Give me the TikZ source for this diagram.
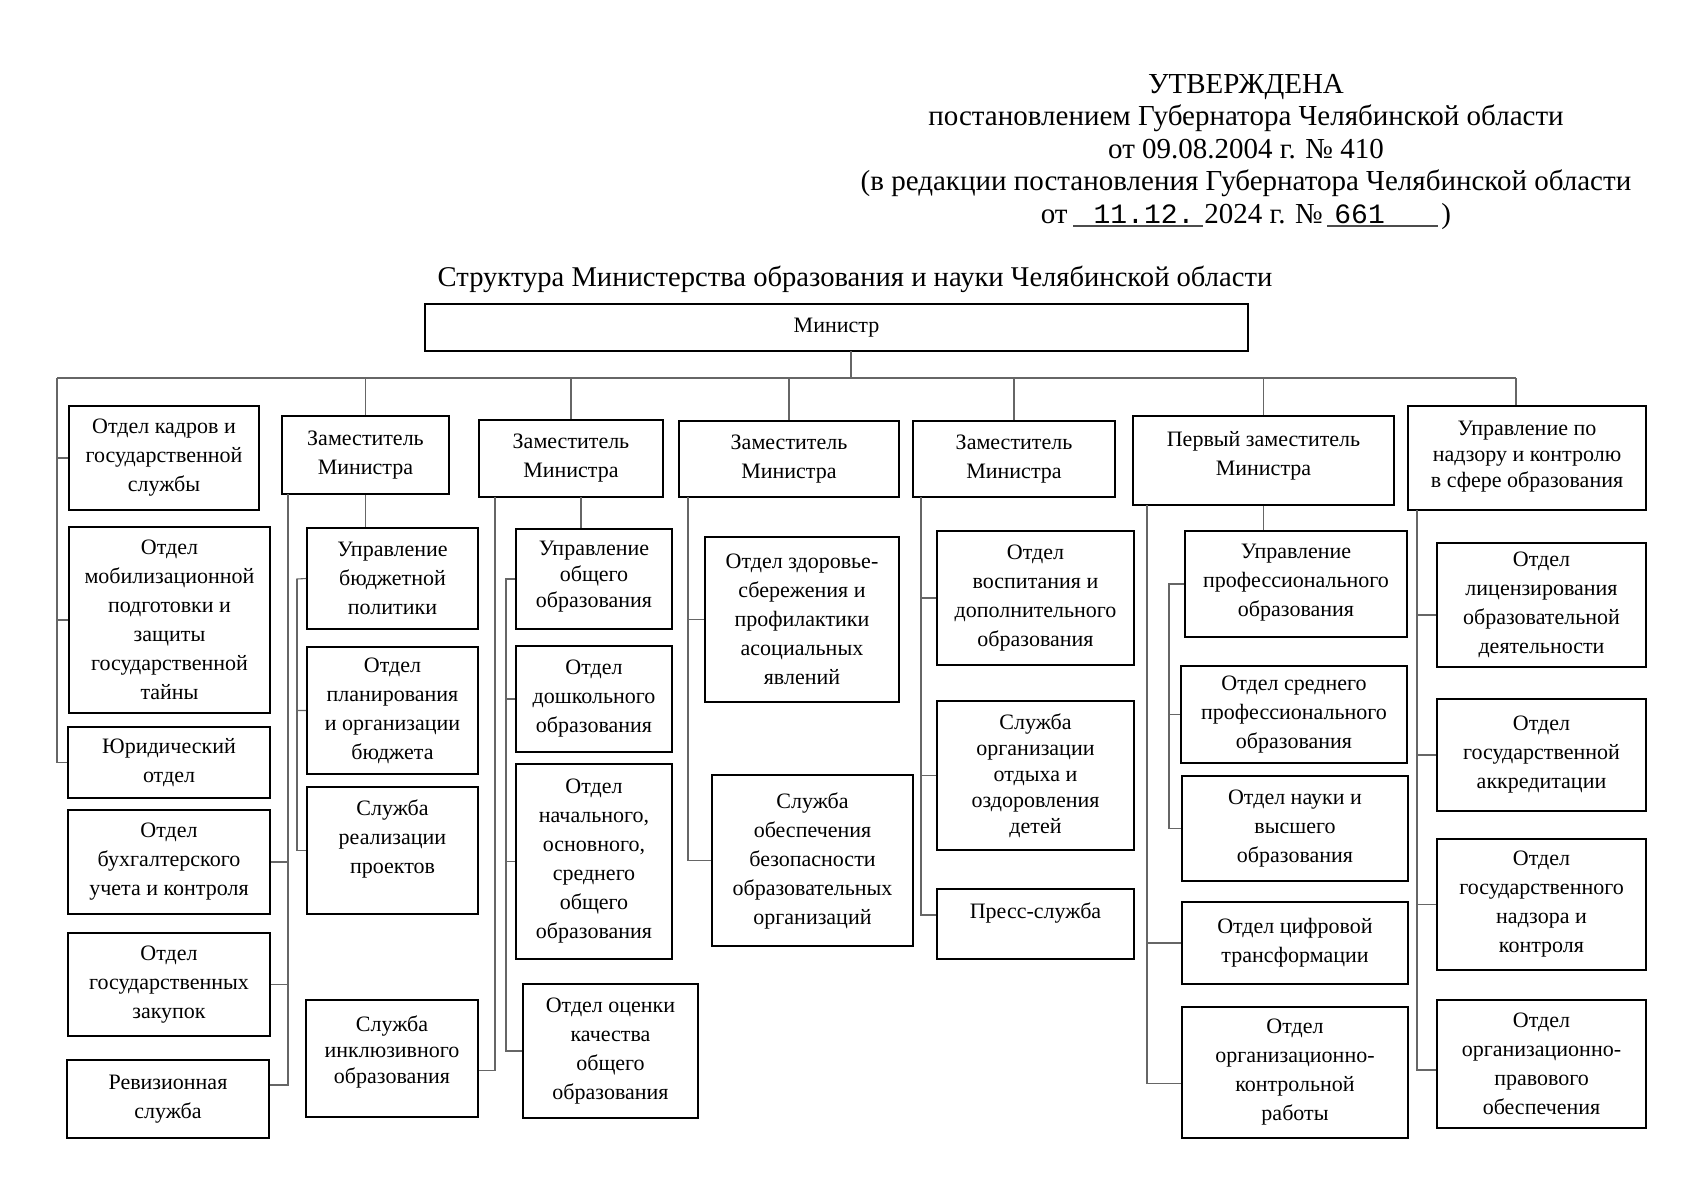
\documentclass[tikz,border=0pt]{standalone}
\usepackage{fontspec}
\setmainfont{Liberation Serif}
\newfontfamily\monof{Liberation Mono}
\usetikzlibrary{calc}
\tikzset{
  box/.style={draw=black, line width=0.9pt, align=center, inner sep=2pt,
    font=\fontsize{11}{14.5}\selectfont},
  tight/.style={font=\fontsize{11}{13}\selectfont},
  conn/.style={draw=black!60, line width=0.55pt},
  hdr/.style={font=\fontsize{14.5}{17}\selectfont, inner sep=0pt},
  uline/.style={draw=black!70, line width=0.6pt}
}
\newcommand{\obox}[7][]{%
  \node[box,#1,minimum width={(#4-#2)*0.5pt},minimum height={(#5-#3)*0.5pt}] (#6) at ({(#2+#4)/2},{(#3+#5)/2}) {#7};}
\begin{document}
\begin{tikzpicture}[x=0.5pt,y=-0.5pt]
\useasboundingbox[fill=white] (0,0) rectangle (1698,1200);

% header
\node[hdr,anchor=base] (h1) at (1246,93) {УТВЕРЖДЕНА};
\node[hdr,anchor=base] (h2) at (1246,125.5) {постановлением Губернатора Челябинской области};
\node[hdr,anchor=base] (h3) at (1246,158) {от 09.08.2004 г. № 410};
\node[hdr,anchor=base] (h4) at (1246,190.5) {(в редакции постановления Губернатора Челябинской области};
\node[hdr,anchor=base east] (h5a) at (1068,223) {от};
\node[hdr,anchor=base,font=\monof\fontsize{14}{16}\selectfont] (h5b) at (1144,223) {11.12.};
\node[hdr,anchor=base west] (h5c) at (1204,223) {2024 г. №};
\node[hdr,anchor=base west,font=\monof\fontsize{14}{16}\selectfont] (h5d) at (1334,223) {661};
\node[hdr,anchor=base west] (h5e) at (1441,223) {)};
\coordinate (u1a) at (1073,226); \coordinate (u1b) at (1203,226);
\coordinate (u2a) at (1327,226); \coordinate (u2b) at (1438,226);
\draw[uline] (u1a) -- (u1b);
\draw[uline] (u2a) -- (u2b);

\node[hdr,anchor=base,font=\fontsize{14.3}{17}\selectfont] (title) at (855,286) {Структура Министерства образования и науки Челябинской области};

% minister
\obox{425}{304}{1248}{351}{min}{Министр}

% column 0
\obox{69}{406}{259}{510}{kadry}{Отдел кадров и\\государственной\\службы}
\obox{69}{527}{270}{713}{mobil}{Отдел\\мобилизационной\\подготовки и\\защиты\\государственной\\тайны}
\obox{68}{727}{270}{798}{yurid}{Юридический\\отдел}
\obox{68}{810}{270}{914}{buh}{Отдел\\бухгалтерского\\учета и контроля}
\obox{68}{933}{270}{1036}{zakup}{Отдел\\государственных\\закупок}
\obox{67}{1060}{269}{1138}{reviz}{Ревизионная\\служба}

% deputy 1
\obox{282}{416}{449}{494}{dep1}{Заместитель\\Министра}
\obox{307}{528}{478}{629}{updb}{Управление\\бюджетной\\политики}
\obox{307}{647}{478}{774}{plan}{Отдел\\планирования\\и организации\\бюджета}
\obox{307}{787}{478}{914}{realiz}{Служба\\реализации\\проектов\\[-1pt]}
\obox[tight]{306}{1000}{478}{1117}{inkluz}{Служба\\инклюзивного\\образования\\[-4.3pt]}

% deputy 2
\obox{479}{420}{663}{497}{dep2}{Заместитель\\Министра}
\obox[tight]{516}{529}{672}{629}{uobsh}{Управление\\общего\\образования\\[-8pt]}
\obox{516}{646}{672}{752}{doshk}{Отдел\\дошкольного\\образования}
\obox{516}{764}{672}{959}{nach}{Отдел\\начального,\\основного,\\среднего\\общего\\образования}
\obox{523}{984}{698}{1118}{ocenka}{Отдел оценки\\качества\\общего\\образования}

% deputy 3
\obox{679}{421}{899}{497}{dep3}{Заместитель\\Министра}
\obox{705}{537}{899}{702}{zdorov}{Отдел здоровье-\\сбережения и\\профилактики\\асоциальных\\явлений}
\obox{712}{775}{913}{946}{bezop}{Служба\\обеспечения\\безопасности\\образовательных\\организаций}

% deputy 4
\obox{913}{421}{1115}{497}{dep4}{Заместитель\\Министра}
\obox{937}{531}{1134}{665}{vospit}{Отдел\\воспитания и\\дополнительного\\образования}
\obox[tight]{937}{701}{1134}{850}{otdyh}{Служба\\организации\\отдыха и\\оздоровления\\детей}
\obox{937}{889}{1134}{959}{press}{Пресс-служба\\[-1pt]}

% first deputy
\obox{1133}{416}{1394}{505}{dep0}{Первый заместитель\\Министра\\[-7pt]}
\obox{1185}{531}{1407}{637}{uprof}{Управление\\профессионального\\образования\\[-11pt]}
\obox{1181}{666}{1407}{763}{sredn}{Отдел среднего\\профессионального\\образования}
\obox{1182}{776}{1408}{881}{nauki}{Отдел науки и\\высшего\\образования}
\obox{1182}{902}{1408}{984}{cifr}{Отдел цифровой\\трансформации}
\obox{1182}{1007}{1408}{1138}{orgk}{Отдел\\организационно-\\контрольной\\работы}

% supervision
\obox[tight]{1408}{406}{1646}{510}{upn}{Управление по\\надзору и контролю\\в сфере образования\\[-9pt]}
\obox{1437}{543}{1646}{667}{lic}{Отдел\\лицензирования\\образовательной\\деятельности}
\obox{1437}{699}{1646}{811}{akkr}{Отдел\\государственной\\аккредитации}
\obox{1437}{839}{1646}{970}{nadz}{Отдел\\государственного\\надзора и\\контроля}
\obox{1437}{1000}{1646}{1128}{pravo}{Отдел\\организационно-\\правового\\обеспечения}

% bus
\coordinate (busL) at (57,378);
\coordinate (busR) at (1516,378);
\coordinate (mtap) at (851,351);
\draw[conn] (busL) -- (busR);
\draw[conn] (mtap) -- (mtap |- busL);
\foreach \d in {dep1,dep2,dep3,dep4,dep0} \draw[conn] (\d.north) -- (\d.north |- busL);
\draw[conn] (busR) -- (busR |- upn.north);

% column 0
\draw[conn] (busL) |- (kadry.west);
\draw[conn] (busL) |- (mobil.west);
\draw[conn] (busL) |- (yurid.west);

% deputy 1
\coordinate (d1o) at (288,494);
\coordinate (d1i) at (297,579);
\draw[conn] (dep1.south) -- (dep1.south |- updb.north);
\draw[conn] (d1o) |- (buh.east);
\draw[conn] (d1o) |- (zakup.east);
\draw[conn] (d1o) |- ($(reviz.east)+(0,-14)$);
\draw[conn] (updb.west) -- (d1i) |- (plan.west);
\draw[conn] (d1i) |- (realiz.west);

% deputy 2
\coordinate (d2o) at (495,497);
\coordinate (d2c) at (581,497);
\coordinate (d2i) at (506,579);
\draw[conn] (d2c) -- (d2c |- uobsh.north);
\draw[conn] (uobsh.west) -- (d2i) |- (doshk.west);
\draw[conn] (d2i) |- (nach.west);
\draw[conn] (d2i) |- (ocenka.west);
\draw[conn] (d2o) |- ($(inkluz.east)+(0,12)$);

% deputy 3
\coordinate (d3o) at (688,497);
\draw[conn] (d3o) |- (zdorov.west);
\draw[conn] (d3o) |- (bezop.west);

% deputy 4
\coordinate (d4o) at (921,497);
\draw[conn] (d4o) |- (vospit.west);
\draw[conn] (d4o) |- (otdyh.west);
\draw[conn] (d4o) |- ($(press.west)+(0,-9)$);

% first deputy
\coordinate (d0o) at (1147,505);
\coordinate (d0i) at (1169,584);
\draw[conn] (dep0.south) -- (dep0.south |- uprof.north);
\draw[conn] (uprof.west) -- (d0i) |- (sredn.west);
\draw[conn] (d0i) |- (nauki.west);
\draw[conn] (d0o) |- (cifr.west);
\draw[conn] (d0o) |- ($(orgk.west)+(0,11)$);

% supervision
\coordinate (upo) at (1417,510);
\draw[conn] (upo) |- ($(lic.west)+(0,10)$);
\draw[conn] (upo) |- (akkr.west);
\draw[conn] (upo) |- (nadz.west);
\draw[conn] (upo) |- ($(pravo.west)+(0,6)$);
\end{tikzpicture}
\end{document}
